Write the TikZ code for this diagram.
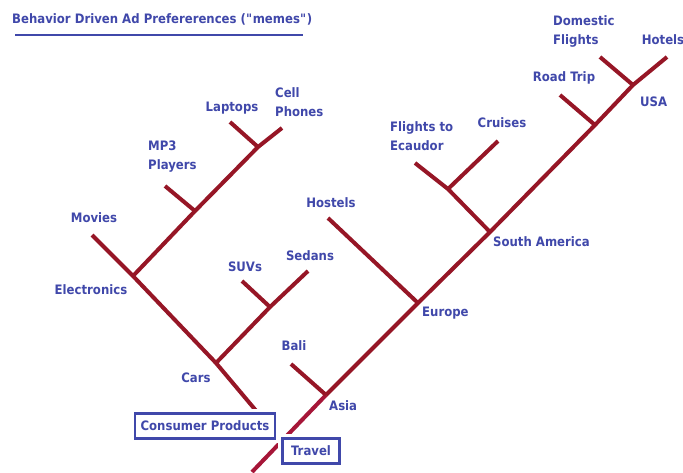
\documentclass[tikz,border=0pt]{standalone}
\usepackage{fontspec}
\setmainfont{DejaVu Sans}[FakeStretch=0.9]
\usetikzlibrary{positioning}
\definecolor{branchred}{RGB}{150,22,38}
\definecolor{trunkred}{RGB}{166,22,56}
\definecolor{labelblue}{RGB}{64,72,170}

\begin{document}
\begin{tikzpicture}[x=1pt, y=-1pt,
  branch/.style={line width=4pt, branchred},
  lbl/.style={font=\bfseries\fontsize{13}{19}\selectfont, text=labelblue, inner sep=0pt},
  rootbox/.style={lbl, draw=labelblue, line width=2.5pt, fill=white, minimum height=25pt,
    preaction={draw=white, line width=9pt}}]
\useasboundingbox[fill=white] (0,0) rectangle (683,472);
% Title
\node[lbl, anchor=west] (title) at (12,19) {Behavior Driven Ad Prefererences (\textquotedbl memes\textquotedbl)};
\coordinate (ulstart) at (15,35);
\coordinate (ulend) at (303,35);
\draw[labelblue, line width=2.5pt] (ulstart) -- (ulend);
% Consumer products tree
\coordinate (cptop) at (258,413);
\coordinate (carsj) at (216,363);
\coordinate (elecj) at (133,276);
\coordinate (moviesend) at (92,235);
\coordinate (mp3j) at (195,211);
\coordinate (mp3end) at (165,186);
\coordinate (phonesj) at (258,147);
\coordinate (laptopsend) at (230,122);
\coordinate (phonesend) at (282,128);
\coordinate (sedansj) at (270,307);
\coordinate (suvsend) at (242,281);
\coordinate (sedansend) at (308,271);
\draw[branch] (cptop) -- (carsj) -- (elecj) -- (moviesend);
\draw[branch] (elecj) -- (mp3j) -- (phonesj) -- (phonesend);
\draw[branch] (mp3end) -- (mp3j);
\draw[branch] (laptopsend) -- (phonesj);
\draw[branch] (carsj) -- (sedansj) -- (sedansend);
\draw[branch] (suvsend) -- (sedansj);
% Travel tree
\coordinate (travelbase) at (252,472);
\coordinate (asiaj) at (326,395);
\coordinate (baliend) at (291,364);
\coordinate (europej) at (418,303);
\coordinate (hostelsend) at (328,218);
\coordinate (southj) at (490,232);
\coordinate (ecuadorend) at (415,163);
\coordinate (cruisesj) at (448,189);
\coordinate (cruisesend) at (498,141);
\coordinate (roadj) at (595,125);
\coordinate (roadend) at (560,95);
\coordinate (usaj) at (633,85);
\coordinate (domesticend) at (600,57);
\coordinate (hotelsend) at (667,57);
\draw[branch, trunkred] (travelbase) -- (asiaj);
\draw[branch] (asiaj) -- (europej) -- (southj) -- (roadj) -- (usaj) -- (hotelsend);
\draw[branch] (baliend) -- (asiaj);
\draw[branch] (hostelsend) -- (europej);
\draw[branch] (ecuadorend) -- (cruisesj) -- (southj);
\draw[branch] (cruisesj) -- (cruisesend);
\draw[branch] (roadend) -- (roadj);
\draw[branch] (domesticend) -- (usaj);
% Roots
\node[rootbox, minimum width=140pt] (consumer) at (205,426) {Consumer Products};
\node[rootbox, minimum width=57pt] (travel) at (311,451) {Travel};
% Labels
\node[lbl] (movies) at (94,218) {Movies};
\node[lbl] (electronics) at (91,290) {Electronics};
\node[lbl, anchor=west, align=left] (mp3) at (148,157) {MP3\\Players};
\node[lbl] (laptops) at (232,108) {Laptops};
\node[lbl, anchor=west, align=left] (phones) at (275,102) {Cell\\Phones};
\node[lbl] (suvs) at (245,267) {SUVs};
\node[lbl] (sedans) at (310,256) {Sedans};
\node[lbl] (cars) at (196,378) {Cars};
\node[lbl] (bali) at (294,346) {Bali};
\node[lbl, anchor=west] (asia) at (329,406) {Asia};
\node[lbl] (hostels) at (331,203) {Hostels};
\node[lbl, anchor=west] (europe) at (422,313) {Europe};
\node[lbl, anchor=west, align=left] (ecuador) at (390,136) {Flights to\\Ecaudor};
\node[lbl] (cruises) at (502,123) {Cruises};
\node[lbl, anchor=west] (southam) at (493,242) {South America};
\node[lbl] (roadtrip) at (564,78) {Road Trip};
\node[lbl, anchor=west, align=left] (domestic) at (553,31) {Domestic\\Flights};
\node[lbl] (hotels) at (663,40) {Hotels};
\node[lbl, anchor=west] (usa) at (640,102) {USA};
\end{tikzpicture}
\end{document}
